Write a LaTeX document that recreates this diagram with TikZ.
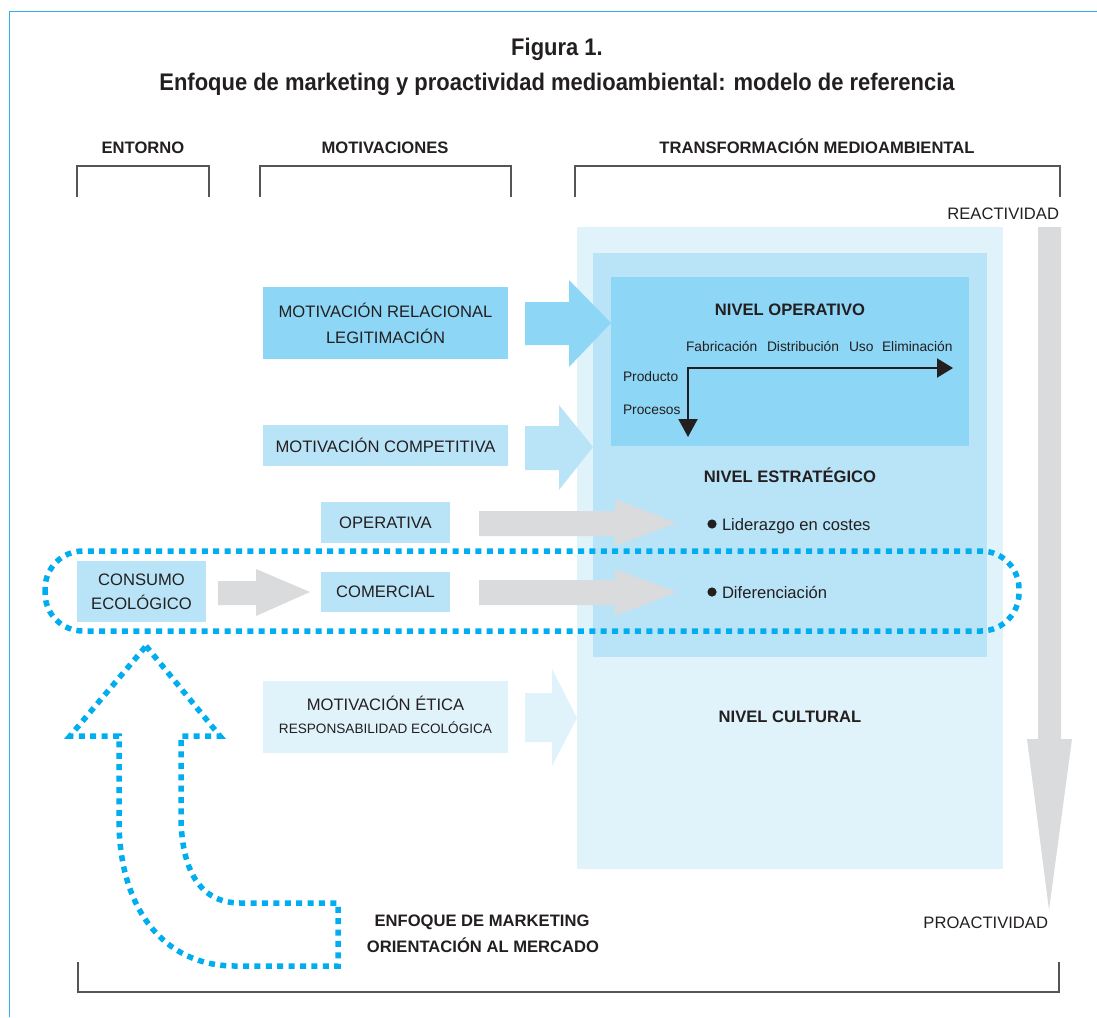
\documentclass[tikz,border=0pt]{standalone}
\usepackage{fontspec}
\setmainfont{Liberation Sans}
\usepackage{graphicx}
\usetikzlibrary{arrows.meta}

\definecolor{framecol}{RGB}{45,175,232}
\definecolor{dotcol}{RGB}{0,174,239}
\definecolor{blueA}{RGB}{141,214,245}
\definecolor{blueB}{RGB}{185,228,248}
\definecolor{blueC}{RGB}{224,242,250}
\definecolor{greyarrow}{RGB}{218,219,221}
\definecolor{bracketcol}{RGB}{85,85,85}
\definecolor{ink}{RGB}{35,31,32}

\begin{document}
\begin{tikzpicture}[x=1pt,y=-1pt,
  every node/.style={inner sep=0pt,outer sep=0pt,text=ink},
  box/.style={align=center,font=\fontsize{16.6}{26}\selectfont},
  lbl/.style={font=\fontsize{16.6}{20}\selectfont},
  small/.style={font=\fontsize{13.8}{16}\selectfont},
  hdr/.style={font=\fontsize{16.6}{20}\selectfont\bfseries},
  bracket/.style={draw=bracketcol,line width=1.6pt},
  dotline/.style={draw=dotcol,line width=5.5pt,dash pattern=on 6pt off 5.4pt}
]
\useasboundingbox (0,0) rectangle (1097,1017);

% outer frame (open to the right and bottom)
\draw[framecol,line width=1.8pt] (9.5,1017) -- (9.5,11.5) -- (1097,11.5);

% title
\node[anchor=base,font=\fontsize{24}{28}\selectfont\bfseries] (fig) at (557,55)
  {\scalebox{0.915}[1]{Figura 1.}};
\node[anchor=base,font=\fontsize{24}{28}\selectfont\bfseries] (title) at (557,90)
  {\scalebox{0.915}[1]{Enfoque de marketing y proactividad medioambiental: modelo de referencia}};

% column headers with brackets
\node[hdr,anchor=base] (hEnt) at (143,153) {ENTORNO};
\node[hdr,anchor=base] (hMot) at (385,153) {MOTIVACIONES};
\node[hdr,anchor=base] (hTra) at (817,153) {TRANSFORMACIÓN MEDIOAMBIENTAL};
\draw[bracket] (77,197) -- (77,166) -- (209,166) -- (209,197);
\draw[bracket] (260,197) -- (260,166) -- (511,166) -- (511,197);
\draw[bracket] (575,197) -- (575,166) -- (1060,166) -- (1060,197);

% nested levels
\fill[blueC] (577,227) rectangle (1003,869);
\fill[blueB] (593,253) rectangle (987,657);
\fill[blueA] (611,277) rectangle (969,446);

% reactivity -> proactivity arrow
\fill[greyarrow] (1038,227) -- (1061,227) -- (1061,739) -- (1072,739)
  -- (1049,910) -- (1027,739) -- (1038,739) -- cycle;
\node[lbl,anchor=base east] (reac) at (1059,219) {REACTIVIDAD};
\node[lbl,anchor=base east] (proac) at (1048,928) {PROACTIVIDAD};

% motivation boxes
\node[box,fill=blueA,minimum width=245pt,minimum height=72pt] (rel) at (385.5,323)
  {MOTIVACIÓN RELACIONAL\\LEGITIMACIÓN};
\node[box,fill=blueB,minimum width=245pt,minimum height=41pt] (comp) at (385.5,445.5)
  {MOTIVACIÓN COMPETITIVA};
\node[box,fill=blueB,minimum width=129pt,minimum height=41pt] (oper) at (385.5,522.5)
  {OPERATIVA};
\node[box,fill=blueB,minimum width=129pt,minimum height=40pt] (comer) at (385.5,591.5)
  {COMERCIAL};
\node[box,fill=blueB,minimum width=129pt,minimum height=61pt,
  font=\fontsize{16.6}{24}\selectfont] (cons) at (141.5,591.5)
  {CONSUMO\\ECOLÓGICO};
\node[fill=blueC,minimum width=245pt,minimum height=72pt] (etica) at (385.5,717) {};
\node[lbl,anchor=base] (eticaA) at (385.5,710) {MOTIVACIÓN ÉTICA};
\node[font=\fontsize{13.6}{16}\selectfont,anchor=base] (eticaB) at (385.5,733)
  {RESPONSABILIDAD ECOLÓGICA};

% block arrows towards the levels
\fill[blueA] (525,302) -- (569,302) -- (569,280) -- (611,323) -- (569,367)
  -- (569,345) -- (525,345) -- cycle;
\fill[blueB] (525,426) -- (559,426) -- (559,405) -- (593,447) -- (559,490)
  -- (559,470) -- (525,470) -- cycle;
\fill[blueC] (525,693) -- (552,693) -- (552,669) -- (577,718) -- (552,766)
  -- (552,742) -- (525,742) -- cycle;
\fill[greyarrow] (479,511) -- (615,511) -- (615,499) -- (677,523) -- (615,546)
  -- (615,536) -- (479,536) -- cycle;
\fill[greyarrow] (479,580) -- (615,580) -- (615,569) -- (677,592) -- (615,616)
  -- (615,605) -- (479,605) -- cycle;
\fill[greyarrow] (218,581) -- (256,581) -- (256,569) -- (310,592) -- (256,616)
  -- (256,605) -- (218,605) -- cycle;

% operative level
\node[hdr,anchor=base] (nOp) at (790,315) {NIVEL OPERATIVO};
\node[small,anchor=base west] (fab) at (686,351) {Fabricación};
\node[small,anchor=base west] (dis) at (767,351) {Distribución};
\node[small,anchor=base west] (uso) at (849,351) {Uso};
\node[small,anchor=base west] (eli) at (882,351) {Eliminación};
\node[small,anchor=base west] (prod) at (623,381) {Producto};
\node[small,anchor=base west] (proc) at (623,414) {Procesos};
\coordinate (corner) at (688,368);
\coordinate (endH) at (953,368);
\coordinate (endV) at (688,437);
\draw[ink,line width=2pt,-{Triangle[length=16pt,width=19pt]}] (corner) -- (endH);
\draw[ink,line width=2pt,-{Triangle[length=18pt,width=19pt]}] ([yshift=1pt]corner) -- (endV);

% strategic level
\node[hdr,anchor=base] (nEst) at (790,482) {NIVEL ESTRATÉGICO};
\fill[ink] (712,524) circle (4.6);
\node[lbl,anchor=base west] (lid) at (722,530) {Liderazgo en costes};
\fill[ink] (712,592) circle (4.6);
\node[lbl,anchor=base west] (dif) at (722,598) {Diferenciación};

% cultural level
\node[hdr,anchor=base] (nCul) at (790,722) {NIVEL CULTURAL};

% market orientation: dotted loop and dotted bent arrow
\draw[dotline,rounded corners=38pt] (45,551) rectangle (1019,631);
\draw[dotline,line join=miter] (146,646) -- (220,736) -- (181,736) -- (181,815)
  .. controls (181,870) and (200,903) .. (240,903) -- (338,903) -- (338,966)
  -- (235,966) .. controls (165,966) and (119,910) .. (119,820)
  -- (119,736) -- (70,736) -- cycle;
\node[hdr,anchor=base] (enf1) at (482,926) {ENFOQUE DE MARKETING};
\node[hdr,anchor=base] (enf2) at (483,952) {ORIENTACIÓN AL MERCADO};

% bottom bracket
\draw[bracket] (78,962) -- (78,992) -- (1059,992) -- (1059,962);
\end{tikzpicture}
\end{document}
